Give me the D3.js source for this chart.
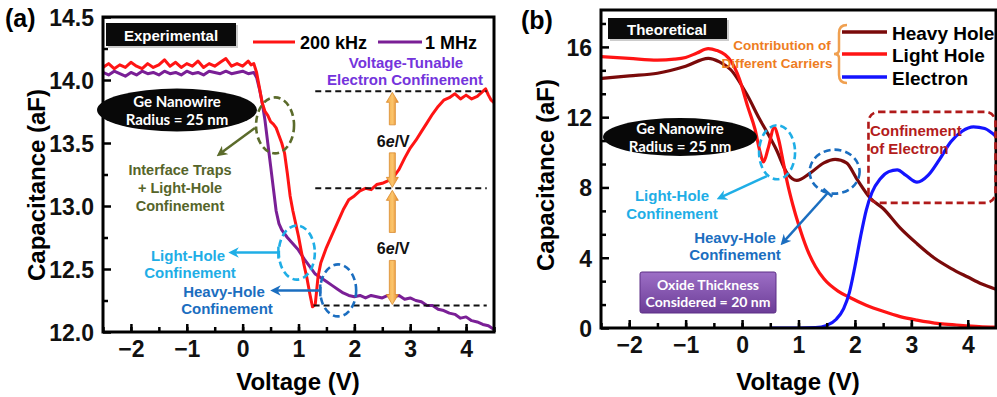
<!DOCTYPE html>
<html>
<head>
<meta charset="utf-8">
<script src="https://cdn.jsdelivr.net/npm/d3@7"></script>
<style>
  body { margin: 0; background: #fff; }
  svg { display: block; font-family: "Liberation Sans", Arial, sans-serif; font-weight: bold; }
</style>
</head>
<body>
<svg id="chart" width="997" height="397"></svg>
<script>
// ---- data ----
// (a) experimental C-V, two frequencies
const volt200k = [-2.5,-2.4,-2.3,-2.2,-2.1,-2.0,-1.9,-1.8,-1.7,-1.6,-1.5,-1.4,-1.3,-1.2,-1.1,-1.0,-0.9,-0.8,-0.7,-0.6,-0.5,-0.4,-0.3,-0.2,-0.1,0.0,0.1,0.15,0.2,0.25,0.3,0.35,0.4,0.45,0.5,0.55,0.6,0.65,0.7,0.75,0.8,0.85,0.9,0.95,1.0,1.05,1.1,1.15,1.2,1.25,1.3,1.35,1.4,1.5,1.6,1.7,1.8,1.9,2.0,2.1,2.2,2.3,2.4,2.5,2.6,2.7,2.8,2.9,3.0,3.1,3.2,3.3,3.4,3.5,3.6,3.7,3.8,3.9,4.0,4.1,4.2,4.3,4.35,4.4,4.45,4.5];
const cap200k  = [14.10,14.13,14.09,14.12,14.10,14.14,14.11,14.09,14.13,14.10,14.12,14.16,14.11,14.14,14.10,14.13,14.11,14.15,14.10,14.13,14.11,14.14,14.17,14.11,14.13,14.11,14.15,14.12,14.13,14.06,13.94,13.82,13.75,13.72,13.67,13.65,13.62,13.56,13.50,13.42,13.26,13.08,12.96,12.86,12.76,12.64,12.53,12.43,12.31,12.20,12.22,12.44,12.55,12.67,12.77,12.87,12.97,13.05,13.08,13.12,13.14,13.13,13.17,13.18,13.20,13.23,13.29,13.38,13.46,13.52,13.59,13.66,13.73,13.79,13.84,13.86,13.89,13.85,13.88,13.85,13.87,13.91,13.93,13.88,13.84,13.82];

const volt1M = [-2.5,-2.4,-2.3,-2.2,-2.1,-2.0,-1.9,-1.8,-1.7,-1.6,-1.5,-1.4,-1.3,-1.2,-1.1,-1.0,-0.9,-0.8,-0.7,-0.6,-0.5,-0.4,-0.3,-0.2,-0.1,0.0,0.1,0.2,0.25,0.3,0.35,0.4,0.45,0.5,0.55,0.6,0.65,0.7,0.8,0.9,1.0,1.1,1.2,1.3,1.4,1.5,1.6,1.7,1.8,1.9,2.0,2.1,2.2,2.3,2.4,2.5,2.6,2.7,2.8,2.9,3.0,3.1,3.2,3.3,3.4,3.5,3.6,3.7,3.8,3.9,4.0,4.1,4.2,4.3,4.4,4.5];
const cap1M  = [14.06,14.04,14.07,14.05,14.03,14.06,14.04,14.07,14.05,14.06,14.04,14.07,14.05,14.06,14.04,14.07,14.05,14.06,14.04,14.07,14.06,14.05,14.07,14.05,14.06,14.07,14.05,14.06,14.02,13.93,13.82,13.68,13.50,13.32,13.14,12.96,12.86,12.81,12.75,12.70,12.65,12.58,12.52,12.46,12.43,12.40,12.37,12.34,12.31,12.29,12.28,12.29,12.27,12.29,12.28,12.27,12.29,12.28,12.29,12.26,12.27,12.25,12.24,12.21,12.21,12.18,12.17,12.15,12.14,12.11,12.12,12.09,12.08,12.06,12.05,12.02];

// horizontal reference levels (aF) and the step label
const levelsA = [13.91, 13.14, 12.21];
const stepLabel = '6';

// (b) theoretical contributions
const voltHH = [-2.5,-2.0,-1.5,-1.0,-0.6,-0.4,-0.2,0.1,0.3,0.45,0.6,0.8,0.97,1.2,1.45,1.65,1.85,2.05,2.27,2.5,2.8,3.1,3.4,3.7,4.0,4.25,4.5];
const capHH  = [14.2,14.35,14.5,14.9,15.35,15.15,14.7,13.2,11.95,11.1,10.2,8.8,8.4,8.8,9.4,9.6,9.4,8.4,7.4,6.8,5.7,4.8,4.0,3.4,2.9,2.5,2.2];

const voltLH = [-2.5,-2.0,-1.5,-1.2,-1.0,-0.8,-0.6,-0.45,-0.3,-0.2,-0.05,0.1,0.23,0.32,0.38,0.46,0.57,0.65,0.72,0.8,0.9,1.0,1.15,1.3,1.45,1.7,1.9,2.2,2.5,2.8,3.1,3.5,3.8,4.2,4.5];
const capLH  = [15.45,15.35,15.25,15.3,15.4,15.65,15.9,15.8,15.55,15.2,14.2,12.6,11.3,10.0,9.45,10.2,11.4,10.7,9.6,8.3,7.0,5.9,4.5,3.5,2.8,2.1,1.75,1.3,0.95,0.65,0.45,0.25,0.17,0.08,0.05];

const voltEl = [0.5,1.0,1.3,1.5,1.67,1.8,1.9,2.0,2.1,2.2,2.3,2.45,2.6,2.75,2.9,3.1,3.3,3.5,3.7,3.9,4.1,4.3,4.5];
const capEl  = [0,0,0.02,0.15,0.5,1.1,2.0,3.5,5.2,6.7,7.7,8.5,8.9,9.0,8.7,8.3,8.7,9.6,10.6,11.2,11.45,11.35,10.9];

const xTicks = [-2,-1,0,1,2,3,4];
const yTicksA = [12.0,12.5,13.0,13.5,14.0,14.5];
const yTicksB = [0,4,8,12,16];

// ---- layout ----
const svg = d3.select('#chart');
const defs = svg.append('defs');
const A = { left: 103, right: 494, top: 17, bottom: 332 };
const B = { left: 601, right: 996, top: 10, bottom: 328 };

const xA = d3.scaleLinear().domain([-2.5, 4.5]).range([A.left, A.right]);
const yA = d3.scaleLinear().domain([12, 14.5]).range([A.bottom, A.top]);
const xB = d3.scaleLinear().domain([-2.5, 4.5]).range([B.left, B.right]);
const yB = d3.scaleLinear().domain([0, 18.1]).range([B.bottom, B.top]);

function marker(id, color) {
  defs.append('marker')
    .attr('id', id).attr('viewBox', '0 0 10 10')
    .attr('refX', 7).attr('refY', 5)
    .attr('markerWidth', 4.2).attr('markerHeight', 4.2)
    .attr('orient', 'auto')
    .append('path').attr('d', 'M0,0L10,5L0,10L3,5z').attr('fill', color);
}
marker('mGreen', '#5b6b2b');
marker('mSky', '#1faee6');
marker('mBlue', '#1b6ec0');

const orangeGrad = defs.append('linearGradient').attr('id', 'orangeG').attr('x1', 0).attr('x2', 1);
orangeGrad.append('stop').attr('offset', '0%').attr('stop-color', '#f3a640');
orangeGrad.append('stop').attr('offset', '50%').attr('stop-color', '#fbc56c');
orangeGrad.append('stop').attr('offset', '100%').attr('stop-color', '#e4862a');

const purpleGrad = defs.append('linearGradient').attr('id', 'purpleG').attr('x1', 0).attr('x2', 0).attr('y1', 0).attr('y2', 1);
purpleGrad.append('stop').attr('offset', '0%').attr('stop-color', '#9d6fc6');
purpleGrad.append('stop').attr('offset', '100%').attr('stop-color', '#6c3d97');

['clipA', 'clipB'].forEach((id, i) => {
  const P = i === 0 ? A : B;
  defs.append('clipPath').attr('id', id).append('rect')
    .attr('x', P.left).attr('y', P.top)
    .attr('width', P.right - P.left).attr('height', P.bottom - P.top);
});

function drawAxes(P, x, y, yTicks, yMinor, yFmt) {
  const g = svg.append('g');
  const bx = g.append('g').attr('transform', `translate(0,${P.bottom})`)
    .call(d3.axisBottom(x).tickValues(xTicks).tickSize(-8).tickPadding(9).tickFormat(d3.format('d')));
  const bxm = g.append('g').attr('transform', `translate(0,${P.bottom})`)
    .call(d3.axisBottom(x).tickValues(d3.range(-2.5, 4.51, 0.5)).tickSize(-5).tickFormat(''));
  const ly = g.append('g').attr('transform', `translate(${P.left},0)`)
    .call(d3.axisLeft(y).tickValues(yTicks).tickSize(-8).tickPadding(9).tickFormat(yFmt));
  const lym = g.append('g').attr('transform', `translate(${P.left},0)`)
    .call(d3.axisLeft(y).tickValues(yMinor).tickSize(-5).tickFormat(''));
  [bx, bxm, ly, lym].forEach(a => {
    a.select('.domain').remove();
    a.selectAll('line').attr('stroke', '#000').attr('stroke-width', 2.5);
    a.selectAll('text').attr('fill', '#111').style('font-size', '23px')
      .style('font-family', '"Liberation Sans", Arial, sans-serif').style('font-weight', 'bold');
  });
  ly.selectAll('text').attr('dy', '0.36em');
  g.append('rect').attr('x', P.left).attr('y', P.top)
    .attr('width', P.right - P.left).attr('height', P.bottom - P.top)
    .attr('fill', 'none').attr('stroke', '#000').attr('stroke-width', 3);
  return g;
}

function txt(x, y, s, opts) {
  const o = Object.assign({ size: 15, color: '#000', anchor: 'middle', family: null, weight: 'bold' }, opts || {});
  const t = svg.append('text').attr('x', x).attr('y', y)
    .attr('text-anchor', o.anchor).attr('dominant-baseline', 'central')
    .attr('fill', o.color).style('font-size', o.size + 'px').style('font-weight', o.weight);
  if (o.family) t.style('font-family', o.family);
  t.text(s);
  return t;
}

function dashedEllipse(cx, cy, rx, ry, color) {
  svg.append('ellipse').attr('cx', cx).attr('cy', cy).attr('rx', rx).attr('ry', ry)
    .attr('fill', 'none').attr('stroke', color).attr('stroke-width', 2.6).attr('stroke-dasharray', '7,4');
}

function arrow(x1, y1, x2, y2, color, mk, bar) {
  svg.append('line').attr('x1', x1).attr('y1', y1).attr('x2', x2).attr('y2', y2)
    .attr('stroke', color).attr('stroke-width', 2.5).attr('marker-end', `url(#${mk})`);
  if (bar) {
    const dx = x2 - x1, dy = y2 - y1, L = Math.hypot(dx, dy);
    const nx = -dy / L * 6, ny = dx / L * 6;
    svg.append('line').attr('x1', x1 + nx).attr('y1', y1 + ny).attr('x2', x1 - nx).attr('y2', y1 - ny)
      .attr('stroke', color).attr('stroke-width', 2.5);
  }
}

// ================= panel (a) =================
const lineA = d3.line().x(d => xA(d[0])).y(d => yA(d[1]));
const gA = svg.append('g').attr('clip-path', 'url(#clipA)');

// dashed reference levels
levelsA.forEach((lv, i) => {
  svg.append('line')
    .attr('x1', xA(i === 2 ? 1.27 : 1.3)).attr('x2', xA(4.37))
    .attr('y1', yA(lv)).attr('y2', yA(lv))
    .attr('stroke', '#111').attr('stroke-width', 2).attr('stroke-dasharray', '6,4');
});

// double orange arrows between levels
function orangeArrow(x, yTop, yBot) {
  const mid = (yTop + yBot) / 2, gap = 15, hw = 6, sw = 3, hl = 10;
  const up = `M${x},${yTop} L${x + hw},${yTop + hl} L${x + sw},${yTop + hl} L${x + sw},${mid - gap} L${x - sw},${mid - gap} L${x - sw},${yTop + hl} L${x - hw},${yTop + hl} Z`;
  const dn = `M${x},${yBot} L${x + hw},${yBot - hl} L${x + sw},${yBot - hl} L${x + sw},${mid + gap - 2} L${x - sw},${mid + gap - 2} L${x - sw},${yBot - hl} L${x - hw},${yBot - hl} Z`;
  [up, dn].forEach(d => svg.append('path').attr('d', d).attr('fill', 'url(#orangeG)')
    .attr('stroke', '#d98a2f').attr('stroke-width', 0.8));
  const t = svg.append('text').attr('x', x + 1).attr('y', mid + 1).attr('text-anchor', 'middle')
    .attr('dominant-baseline', 'central').style('font-size', '16px').attr('fill', '#111');
  t.append('tspan').text(stepLabel);
  t.append('tspan').style('font-style', 'italic').text('e');
  t.append('tspan').text('/V');
}
orangeArrow(xA(2.68), yA(levelsA[0]) + 1, yA(levelsA[1]) - 1);
orangeArrow(xA(2.68), yA(levelsA[1]) + 2, yA(levelsA[2]) - 1);

gA.append('path').datum(d3.zip(volt1M, cap1M)).attr('d', lineA)
  .attr('fill', 'none').attr('stroke', '#7a1f96').attr('stroke-width', 3).attr('stroke-linejoin', 'round');
gA.append('path').datum(d3.zip(volt200k, cap200k)).attr('d', lineA)
  .attr('fill', 'none').attr('stroke', '#ff1414').attr('stroke-width', 3).attr('stroke-linejoin', 'round');

drawAxes(A, xA, yA, yTicksA, [12.25, 12.75, 13.25, 13.75, 14.25], d3.format('.1f'));

txt(5, 18, '(a)', { size: 25, anchor: 'start' });
txt(298, 381, 'Voltage (V)', { size: 24 });
txt(36, 185, 'Capacitance (aF)', { size: 24 }).attr('transform', 'rotate(-90,36,185)');

// Experimental tag
svg.append('rect').attr('x', 108).attr('y', 25).attr('width', 130).attr('height', 23).attr('fill', '#999').attr('opacity', 0.5);
svg.append('rect').attr('x', 106).attr('y', 23).attr('width', 130).attr('height', 23).attr('fill', '#0a0a0a');
txt(171, 35, 'Experimental', { size: 15, color: '#fff' });

// legend
svg.append('line').attr('x1', 253).attr('x2', 295).attr('y1', 42).attr('y2', 42).attr('stroke', '#ff1414').attr('stroke-width', 3);
txt(300, 43, '200 kHz', { size: 18, anchor: 'start' });
svg.append('line').attr('x1', 378).attr('x2', 422).attr('y1', 42).attr('y2', 42).attr('stroke', '#7a1f96').attr('stroke-width', 3);
txt(425, 43, '1 MHz', { size: 18, anchor: 'start' });

txt(406, 62, 'Voltage-Tunable', { size: 15, color: '#7434dc' });
txt(405, 79, 'Electron Confinement', { size: 15, color: '#7434dc' });

// Ge nanowire badge
svg.append('ellipse').attr('cx', 177).attr('cy', 110).attr('rx', 80).attr('ry', 21.5).attr('fill', '#080808');
txt(177, 101, 'Ge Nanowire', { size: 15, color: '#fff', family: 'Lato, sans-serif' });
txt(177, 119, 'Radius = 25 nm', { size: 15, color: '#fff', family: 'Lato, sans-serif' });

// annotations (a)
dashedEllipse(xA(0.58), yA(13.64), 19, 28, '#5b6b2b');
arrow(xA(0.22), yA(13.62), xA(-0.42), yA(13.41), '#5b6b2b', 'mGreen', false);
txt(180, 170, 'Interface Traps', { size: 14.5, color: '#56652a' });
txt(180, 188, '+ Light-Hole', { size: 14.5, color: '#56652a' });
txt(180, 206, 'Confinement', { size: 14.5, color: '#56652a' });

dashedEllipse(xA(0.97), yA(12.63), 18, 27, '#1faee6');
arrow(xA(0.64), yA(12.63), xA(-0.2), yA(12.63), '#1faee6', 'mSky', true);
txt(188, 255, 'Light-Hole', { size: 15, color: '#1faee6' });
txt(190, 272, 'Confinement', { size: 15, color: '#1faee6' });

dashedEllipse(xA(1.71), yA(12.33), 18, 26, '#1b6ec0');
arrow(xA(1.39), yA(12.33), xA(0.55), yA(12.33), '#1b6ec0', 'mBlue', true);
txt(224, 291, 'Heavy-Hole', { size: 15, color: '#1b6ec0' });
txt(227, 308, 'Confinement', { size: 15, color: '#1b6ec0' });

// ================= panel (b) =================
const lineB = d3.line().x(d => xB(d[0])).y(d => yB(d[1])).curve(d3.curveMonotoneX);
const gB = svg.append('g').attr('clip-path', 'url(#clipB)');
gB.append('path').datum(d3.zip(voltHH, capHH)).attr('d', lineB)
  .attr('fill', 'none').attr('stroke', '#7a0a0a').attr('stroke-width', 3.2);
gB.append('path').datum(d3.zip(voltLH, capLH)).attr('d', lineB)
  .attr('fill', 'none').attr('stroke', '#ff1414').attr('stroke-width', 3.2);
gB.append('path').datum(d3.zip(voltEl, capEl)).attr('d', lineB)
  .attr('fill', 'none').attr('stroke', '#1414ff').attr('stroke-width', 3.2);

const minorB = d3.range(0, 18.1, 4 / 3).filter(v => Math.abs(v / 4 - Math.round(v / 4)) > 0.01);
drawAxes(B, xB, yB, yTicksB, minorB, d3.format('d'));

txt(521, 20, '(b)', { size: 25, anchor: 'start' });
txt(798, 381, 'Voltage (V)', { size: 24 });
txt(545, 175, 'Capacitance (aF)', { size: 24 }).attr('transform', 'rotate(-90,545,175)');

svg.append('rect').attr('x', 610).attr('y', 20).attr('width', 119).attr('height', 21).attr('fill', '#999').attr('opacity', 0.5);
svg.append('rect').attr('x', 608).attr('y', 18).attr('width', 119).attr('height', 21).attr('fill', '#0a0a0a');
txt(667, 29, 'Theoretical', { size: 15, color: '#fff' });

// legend (b)
const legB = [['Heavy Hole', '#7a0a0a', 32], ['Light Hole', '#ff1414', 54], ['Electron', '#1414ff', 77]];
legB.forEach(([name, c, y]) => {
  svg.append('line').attr('x1', 842).attr('x2', 887).attr('y1', y).attr('y2', y).attr('stroke', c).attr('stroke-width', 3.5);
  txt(892, y + 1, name, { size: 19, anchor: 'start' });
});
svg.append('path').attr('d', 'M847,25 Q839,25 839,33 L839,50 Q839,54 834,54 Q839,54 839,58 L839,75 Q839,83 847,83')
  .attr('fill', 'none').attr('stroke', '#f0a050').attr('stroke-width', 2.5);
txt(782, 45, 'Contribution of', { size: 13.5, color: '#ee7d22' });
txt(777, 63, 'Different Carriers', { size: 13.5, color: '#ee7d22' });

svg.append('ellipse').attr('cx', 680).attr('cy', 137).attr('rx', 77).attr('ry', 19).attr('fill', '#080808');
txt(680, 128, 'Ge Nanowire', { size: 15, color: '#fff', family: 'Lato, sans-serif' });
txt(680, 146, 'Radius = 25 nm', { size: 15, color: '#fff', family: 'Lato, sans-serif' });

dashedEllipse(xB(0.62), yB(10.0), 18, 27, '#1faee6');
arrow(xB(0.44), yB(8.65), xB(-0.4), yB(7.4), '#1faee6', 'mSky', false);
txt(672, 195, 'Light-Hole', { size: 15, color: '#1faee6' });
txt(672, 213, 'Confinement', { size: 15, color: '#1faee6' });

dashedEllipse(xB(1.64), yB(8.9), 25, 22, '#1b6ec0');
arrow(xB(1.52), yB(7.7), xB(0.72), yB(4.85), '#1b6ec0', 'mBlue', true);
txt(735, 237, 'Heavy-Hole', { size: 15, color: '#1b6ec0' });
txt(735, 254, 'Confinement', { size: 15, color: '#1b6ec0' });

svg.append('rect').attr('x', 640).attr('y', 272).attr('width', 136).attr('height', 41).attr('rx', 2)
  .attr('fill', 'url(#purpleG)').attr('stroke', '#5d2f86').attr('stroke-width', 1);
txt(708, 284, 'Oxide Thickness', { size: 14, color: '#fff', family: 'Lato, sans-serif' });
txt(708, 301, 'Considered = 20 nm', { size: 14, color: '#fff', family: 'Lato, sans-serif' });

svg.append('rect').attr('x', xB(2.24)).attr('y', yB(12.3)).attr('width', 127).attr('height', 91).attr('rx', 10)
  .attr('fill', 'none').attr('stroke', '#b01a1a').attr('stroke-width', 2.6).attr('stroke-dasharray', '7,4');
txt(870, 130, 'Confinement', { size: 15, color: '#b31c1c', anchor: 'start' });
txt(870, 148, 'of Electron', { size: 15, color: '#b31c1c', anchor: 'start' });
</script>
</body>
</html>
